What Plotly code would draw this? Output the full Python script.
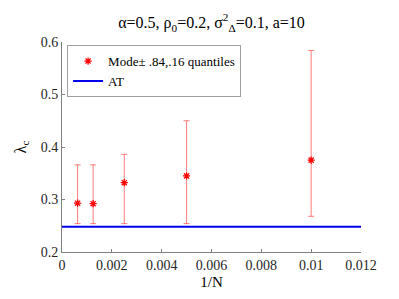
import plotly.graph_objects as go

inv_n = [0.000625, 0.00125, 0.0025, 0.005, 0.01]
mode_vals = [0.293, 0.292, 0.332, 0.345, 0.375]
upper_q = [0.366, 0.366, 0.386, 0.450, 0.584]
lower_q = [0.254, 0.254, 0.254, 0.254, 0.268]
at_x = [0.0, 0.012]
at_y = [0.248, 0.248]

err_plus = [u - m for u, m in zip(upper_q, mode_vals)]
err_minus = [m - l for m, l in zip(mode_vals, lower_q)]

font_fam = "'Liberation Serif', 'DejaVu Serif', serif"

fig = go.Figure()
fig.add_trace(go.Scatter(
    x=inv_n, y=mode_vals, mode="markers",
    name="Mode\u00b1 .84,.16 quantiles",
    marker=dict(symbol="asterisk-open", size=6, color="red",
                line=dict(color="red", width=1.3)),
    error_y=dict(type="data", symmetric=False, array=err_plus, arrayminus=err_minus,
                 color="rgba(255,80,80,0.75)", thickness=1, width=3),
))
fig.add_trace(go.Scatter(
    x=at_x, y=at_y, mode="lines", name="AT",
    line=dict(color="#0000ee", width=2),
))

fig.update_layout(
    width=391, height=291,
    margin=dict(l=50, r=38, t=34, b=47),
    paper_bgcolor="white", plot_bgcolor="white",
    font=dict(family=font_fam, color="#262626", size=14),
    title=dict(text="\u03b1=0.5, \u03c1<sub>0</sub>=0.2, \u03c3<sup>2</sup><sub>\u0394</sub>=0.1, a=10",
               xref="paper", x=0.5, xanchor="center", y=0.95, yanchor="middle",
               font=dict(size=16, color="black", family=font_fam)),
    legend=dict(x=0.017, y=0.985, xanchor="left", yanchor="top",
                bgcolor="white", bordercolor="#a0a0a0", borderwidth=1,
                font=dict(size=13, color="black", family=font_fam),
                tracegroupgap=0, itemwidth=30),
    showlegend=True,
)
fig.update_xaxes(
    range=[0, 0.012], tickvals=[0, 0.002, 0.004, 0.006, 0.008, 0.01, 0.012],
    ticktext=["0", "0.002", "0.004", "0.006", "0.008", "0.01", "0.012"],
    showgrid=False, zeroline=False, showline=True, linecolor="#808080", linewidth=1,
    ticks="inside", ticklen=3, tickcolor="#808080",
    title=dict(text="1/N", font=dict(size=15, color="black", family=font_fam), standoff=4),
    tickfont=dict(size=14, color="#262626", family=font_fam),
)
fig.update_yaxes(
    range=[0.2, 0.6], tickvals=[0.2, 0.3, 0.4, 0.5, 0.6],
    ticktext=["0.2", "0.3", "0.4", "0.5", "0.6"],
    showgrid=False, zeroline=False, showline=True, linecolor="#808080", linewidth=1,
    ticks="inside", ticklen=3, tickcolor="#808080",
    title=dict(text="\u03bb<sub>c</sub>", font=dict(size=16, color="black", family=font_fam), standoff=10),
    tickfont=dict(size=14, color="#262626", family=font_fam),
)

fig.write_html("out.html")
